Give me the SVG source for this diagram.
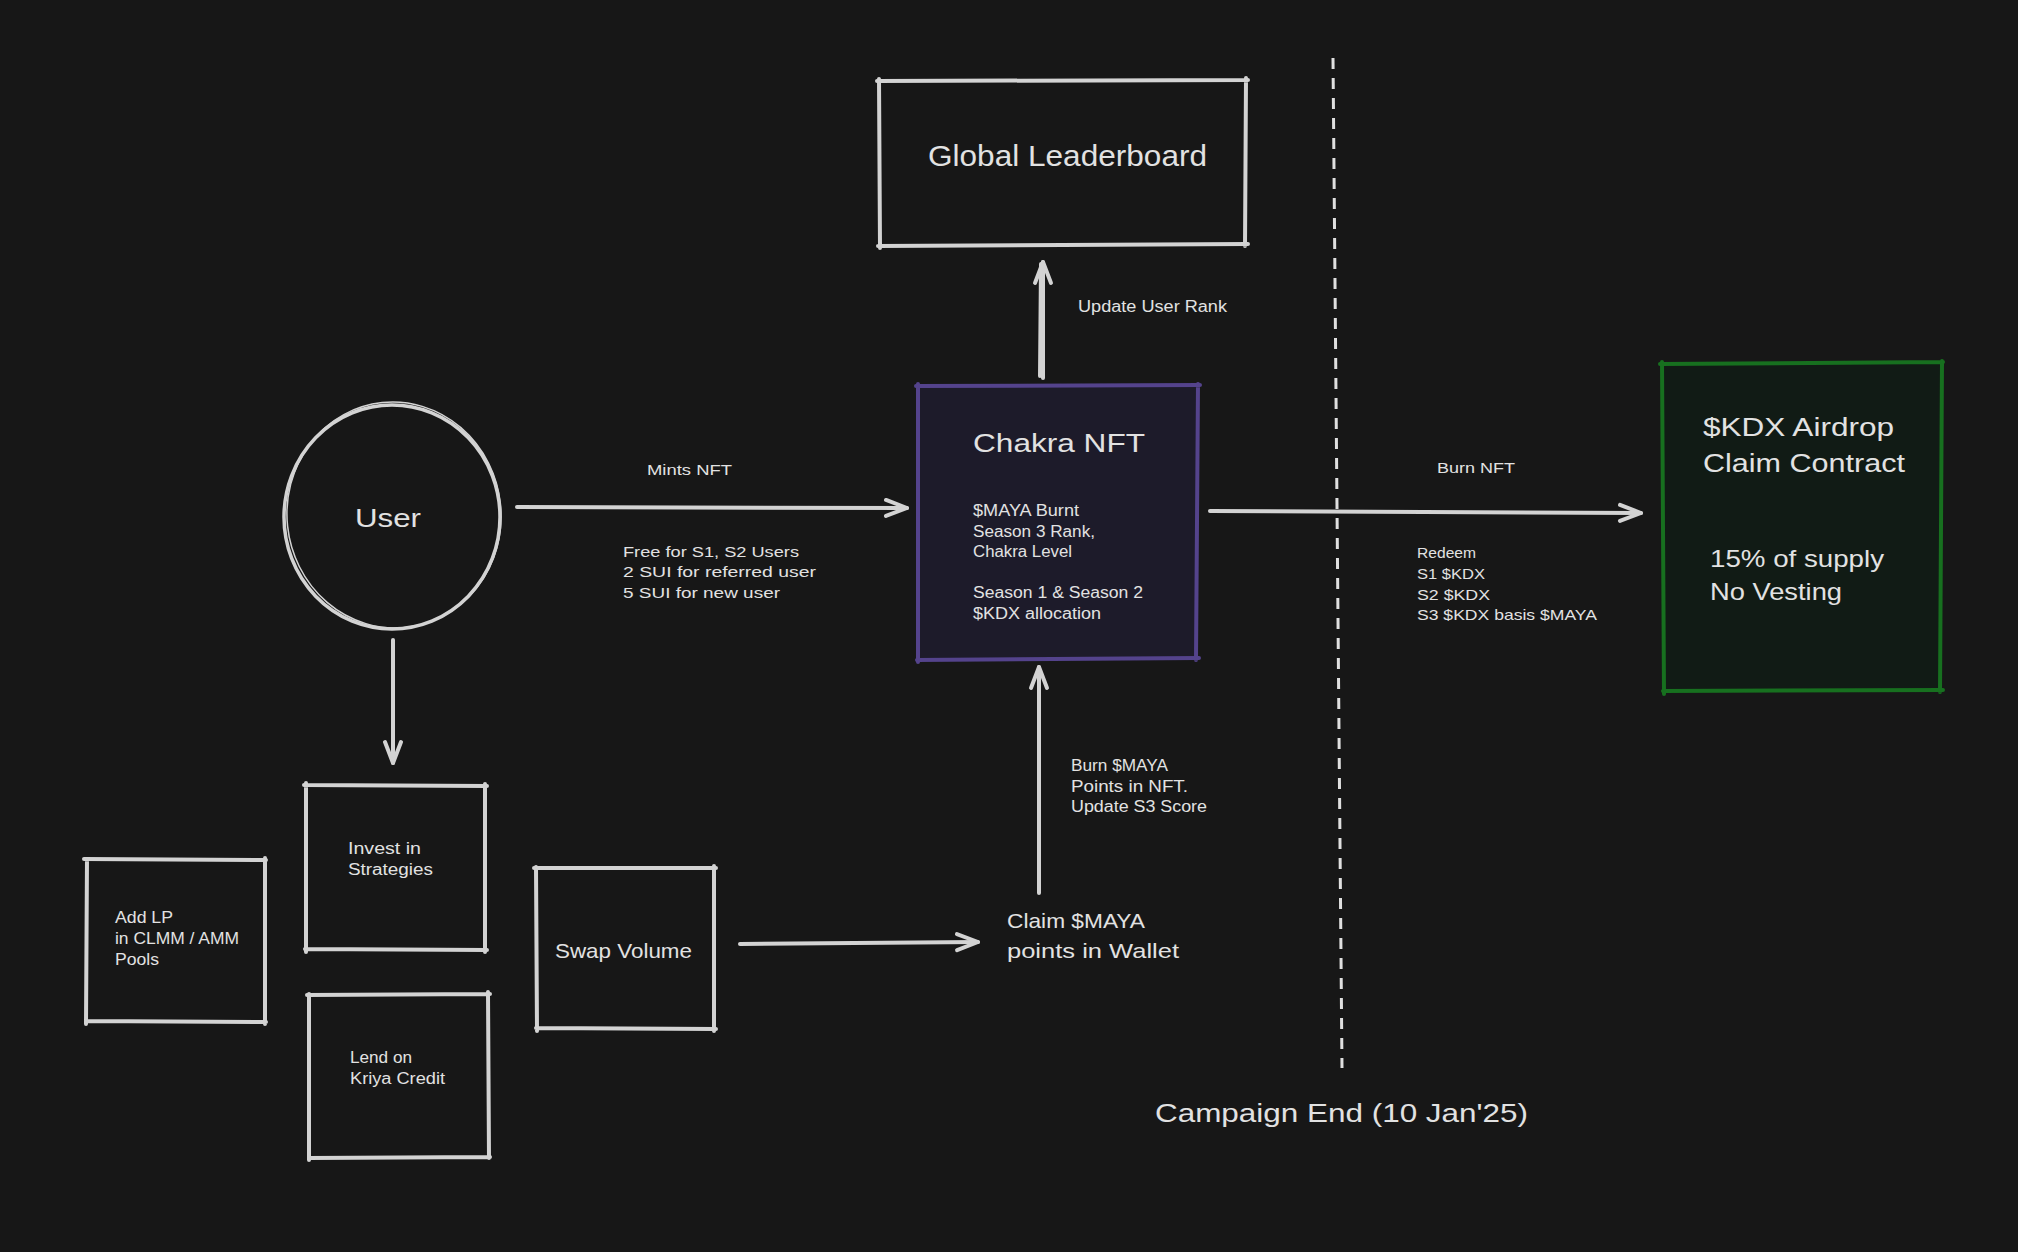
<svg xmlns="http://www.w3.org/2000/svg" width="2018" height="1252" viewBox="0 0 2018 1252">
<defs>
<style>
.bg{fill:#171717}
.box{fill:none;stroke:#d3d3d3;stroke-width:4;stroke-linecap:round;stroke-linejoin:round}
.purple{fill:none;stroke:#54438c;stroke-width:4;stroke-linecap:round}
.green{fill:none;stroke:#17701f;stroke-width:4;stroke-linecap:round}
.conn{fill:none;stroke:#d3d3d3;stroke-width:4;stroke-linecap:round}
.dash{fill:none;stroke:#e0e0e0;stroke-width:3;stroke-dasharray:11 9}
text{font-family:"Liberation Sans",Arial,sans-serif;fill:#e2e2e2}
.s{font-size:15px}
.m{font-size:16px}
.l{font-size:21px}
.xl{font-size:25px}
</style>
<marker id="arr" markerUnits="userSpaceOnUse" markerWidth="30" markerHeight="30" refX="22" refY="15" orient="auto" overflow="visible">
<path d="M1,7 L22,15 L1,23" fill="none" stroke="#d3d3d3" stroke-width="4" stroke-linecap="round" stroke-linejoin="round"/>
</marker>
</defs>
<rect class="bg" x="0" y="0" width="2018" height="1252"/>

<g id="connectors">
<path class="conn" d="M1043,378 L1043,262" marker-end="url(#arr)"/>
<path class="conn" d="M1040,376 L1041,264" stroke-width="2"/>
<path class="conn" d="M517,507 L907,508" marker-end="url(#arr)"/>
<path class="conn" d="M1210,511 L1641,513" marker-end="url(#arr)"/>
<path class="conn" d="M393,640 L393,763" marker-end="url(#arr)"/>
<path class="conn" d="M1039,893 L1039,667" marker-end="url(#arr)"/>
<path class="conn" d="M740,944 L978,942" marker-end="url(#arr)"/>
<path class="dash" d="M1333,58 L1342,1068"/>
</g>

<g id="global-leaderboard">
<path class="box" d="M877,81 L1248,80 M1246,78 L1245,246 M1248,244 L878,246 M880,248 L879,79"/>
<text x="928" y="166" font-size="29" textLength="279" lengthAdjust="spacingAndGlyphs">Global Leaderboard</text>
</g>
<g id="label-update-rank">
<text class="m" x="1078" y="312" textLength="149" lengthAdjust="spacingAndGlyphs">Update User Rank</text>
</g>

<g id="chakra-nft">
<rect x="918" y="386" width="280" height="273" fill="#1d1b2a"/>
<path class="purple" d="M916,386 L1200,385 M1198,384 L1196,660 M1199,658 L917,660 M918,662 L918,384"/>
<text x="973" y="452" class="xl" textLength="172" lengthAdjust="spacingAndGlyphs">Chakra NFT</text>
<text class="m" x="973" y="516" textLength="106" lengthAdjust="spacingAndGlyphs">$MAYA Burnt</text>
<text class="m" x="973" y="537" textLength="122" lengthAdjust="spacingAndGlyphs">Season 3 Rank,</text>
<text class="m" x="973" y="557" textLength="99" lengthAdjust="spacingAndGlyphs">Chakra Level</text>
<text class="m" x="973" y="598" textLength="170" lengthAdjust="spacingAndGlyphs">Season 1 &amp; Season 2</text>
<text class="m" x="973" y="619" textLength="128" lengthAdjust="spacingAndGlyphs">$KDX allocation</text>
</g>

<g id="user">
<ellipse cx="392" cy="517" rx="108" ry="112" fill="none" stroke="#d3d3d3" stroke-width="3.5"/>
<ellipse cx="394" cy="515" rx="107" ry="113" fill="none" stroke="#d3d3d3" stroke-width="1.5" transform="rotate(-6 394 515)"/>
<text x="355" y="527" class="xl" textLength="66" lengthAdjust="spacingAndGlyphs">User</text>
</g>

<g id="label-mints">
<text class="s" x="647" y="475" textLength="85" lengthAdjust="spacingAndGlyphs">Mints NFT</text>
<text class="s" x="623" y="557" textLength="176" lengthAdjust="spacingAndGlyphs">Free for S1, S2 Users</text>
<text class="s" x="623" y="577" textLength="193" lengthAdjust="spacingAndGlyphs">2 SUI for referred user</text>
<text class="s" x="623" y="598" textLength="157" lengthAdjust="spacingAndGlyphs">5 SUI for new user</text>
</g>

<g id="label-burn">
<text class="s" x="1437" y="473" textLength="78" lengthAdjust="spacingAndGlyphs">Burn NFT</text>
<text class="s" x="1417" y="558" textLength="59" lengthAdjust="spacingAndGlyphs">Redeem</text>
<text class="s" x="1417" y="579" textLength="68" lengthAdjust="spacingAndGlyphs">S1 $KDX</text>
<text class="s" x="1417" y="600" textLength="73" lengthAdjust="spacingAndGlyphs">S2 $KDX</text>
<text class="s" x="1417" y="620" textLength="180" lengthAdjust="spacingAndGlyphs">S3 $KDX basis $MAYA</text>
</g>

<g id="kdx-airdrop">
<rect x="1662" y="363" width="280" height="329" fill="#111b15"/>
<path class="green" d="M1660,364 L1943,362 M1942,361 L1940,692 M1943,690 L1663,691 M1664,694 L1662,362"/>
<text x="1703" y="436" class="xl" textLength="191" lengthAdjust="spacingAndGlyphs">$KDX Airdrop</text>
<text x="1703" y="472" class="xl" textLength="202" lengthAdjust="spacingAndGlyphs">Claim Contract</text>
<text x="1710" y="567" font-size="24" textLength="174" lengthAdjust="spacingAndGlyphs">15% of supply</text>
<text x="1710" y="600" font-size="24" textLength="132" lengthAdjust="spacingAndGlyphs">No Vesting</text>
</g>

<g id="invest">
<path class="box" d="M304,785 L487,786 M485,784 L485,952 M487,950 L305,949 M306,952 L306,783"/>
<text class="m" x="348" y="854" textLength="73" lengthAdjust="spacingAndGlyphs">Invest in</text>
<text class="m" x="348" y="875" textLength="85" lengthAdjust="spacingAndGlyphs">Strategies</text>
</g>

<g id="add-lp">
<path class="box" d="M84,859 L266,860 M265,858 L265,1024 M266,1022 L86,1021 M86,1024 L87,859"/>
<text class="m" x="115" y="923" textLength="58" lengthAdjust="spacingAndGlyphs">Add LP</text>
<text class="m" x="115" y="944" textLength="124" lengthAdjust="spacingAndGlyphs">in CLMM / AMM</text>
<text class="m" x="115" y="965" textLength="44" lengthAdjust="spacingAndGlyphs">Pools</text>
</g>

<g id="lend">
<path class="box" d="M307,995 L490,994 M488,992 L489,1158 M490,1157 L309,1158 M309,1160 L309,994"/>
<text class="m" x="350" y="1063" textLength="62" lengthAdjust="spacingAndGlyphs">Lend on</text>
<text class="m" x="350" y="1084" textLength="95" lengthAdjust="spacingAndGlyphs">Kriya Credit</text>
</g>

<g id="swap-volume">
<path class="box" d="M534,868 L716,868 M714,866 L714,1031 M716,1029 L536,1028 M537,1031 L536,867"/>
<text class="l" x="555" y="958" textLength="137" lengthAdjust="spacingAndGlyphs">Swap Volume</text>
</g>

<g id="claim-maya">
<text class="l" x="1007" y="928" textLength="138" lengthAdjust="spacingAndGlyphs">Claim $MAYA</text>
<text class="l" x="1007" y="958" textLength="172" lengthAdjust="spacingAndGlyphs">points in Wallet</text>
</g>

<g id="label-burn-maya">
<text class="m" x="1071" y="771" textLength="97" lengthAdjust="spacingAndGlyphs">Burn $MAYA</text>
<text class="m" x="1071" y="792" textLength="117" lengthAdjust="spacingAndGlyphs">Points in NFT.</text>
<text class="m" x="1071" y="812" textLength="136" lengthAdjust="spacingAndGlyphs">Update S3 Score</text>
</g>

<g id="campaign-end">
<text x="1155" y="1122" class="xl" textLength="373" lengthAdjust="spacingAndGlyphs">Campaign End (10 Jan'25)</text>
</g>
</svg>
